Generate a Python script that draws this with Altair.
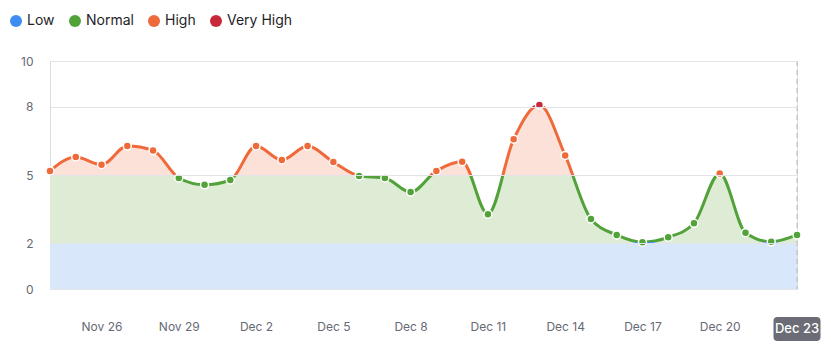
import altair as alt
import pandas as pd

# ---- data ----
start_date = "2024-11-24"
values = [5.18, 5.79, 5.45, 6.27, 6.08, 4.87, 4.57, 4.78, 6.27, 5.66,
          6.27, 5.57, 4.96, 4.87, 4.25, 5.18, 5.58, 3.28, 6.57, 8.07,
          5.86, 3.07, 2.37, 2.05, 2.27, 2.88, 5.07, 2.47, 2.07, 2.37]
categories = ["Low", "Normal", "High", "Very High"]
thresholds = [2, 5, 8]
cat_colors = ["#3d8ef0", "#52a23a", "#ef6a3a", "#c62a3a"]
band_fills = ["#d9e7fb", "#deebd5", "#fbe1d8", "#f6d0d4"]
y_ticks = [0, 2, 5, 8, 10]
x_tick_dates = ["2024-11-26", "2024-11-29", "2024-12-02", "2024-12-05", "2024-12-08",
                "2024-12-11", "2024-12-14", "2024-12-17", "2024-12-20"]
highlight_date = "2024-12-23"
highlight_label = "Dec 23"

dates = pd.date_range(start_date, periods=len(values), freq="D")


def cat_of(v):
    if v < thresholds[0]:
        return categories[0]
    if v < thresholds[1]:
        return categories[1]
    if v < thresholds[2]:
        return categories[2]
    return categories[3]


df = pd.DataFrame({
    "date": dates.strftime("%Y-%m-%d"),
    "value": values,
    "cat": [cat_of(v) for v in values],
})
hl = pd.DataFrame({"date": [highlight_date], "label": [highlight_label]})


def ms(d):
    return int(pd.Timestamp(d, tz="UTC").timestamp() * 1000)


vmax = max(values)
vmin = min(values)


def hard_stops(lo, hi, colors):
    # gradient from top (hi) to bottom (lo) with hard transitions at thresholds
    span = hi - lo
    def off(t):
        return min(1.0, max(0.0, (hi - t) / span))
    o = [off(t) for t in thresholds]  # offsets for 2, 5, 8
    stops = [
        {"offset": 0, "color": colors[3]},
        {"offset": o[2], "color": colors[3]},
        {"offset": o[2], "color": colors[2]},
        {"offset": o[1], "color": colors[2]},
        {"offset": o[1], "color": colors[1]},
        {"offset": o[0], "color": colors[1]},
        {"offset": o[0], "color": colors[0]},
        {"offset": 1, "color": colors[0]},
    ]
    return {"gradient": "linear", "x1": 0, "x2": 0, "y1": 0, "y2": 1, "stops": stops}


area_grad = hard_stops(0, vmax, band_fills)
line_grad = hard_stops(vmin, vmax, cat_colors)

FONT = "Inter"

xscale = alt.Scale(type="utc", domain=[ms(dates[0]), ms(dates[-1])], nice=False)
yscale = alt.Scale(domain=[0, 10], nice=False)

x_enc = alt.X(
    "date:T",
    scale=xscale,
    title=None,
    axis=alt.Axis(
        values=[ms(d) for d in x_tick_dates],
        labelExpr="utcFormat(datum.value, '%b %-d')",
        grid=False, ticks=False, domain=False,
        labelPadding=32, labelFontSize=12, labelColor="#666a73", labelFont=FONT,
    ),
)
y_enc = alt.Y(
    "value:Q",
    scale=yscale,
    title=None,
    axis=alt.Axis(
        values=y_ticks, grid=True, ticks=False, domain=False,
        gridColor="#e2e4ea", gridWidth=1,
        labelPadding=17, labelFontSize=12, labelColor="#666a73", labelFont=FONT,
        zindex=1,
    ),
)

base = alt.Chart(df)

area = base.mark_area(interpolate="monotone", fill=area_grad, opacity=1).encode(
    x=x_enc, y=y_enc, y2=alt.datum(0)
)

line = base.mark_line(interpolate="monotone", stroke=line_grad, strokeWidth=3).encode(
    x="date:T", y="value:Q"
)

points = base.mark_circle(size=64, stroke="white", strokeWidth=1.5, opacity=1).encode(
    x="date:T",
    y="value:Q",
    color=alt.Color(
        "cat:N",
        scale=alt.Scale(domain=categories, range=cat_colors),
        legend=alt.Legend(
            orient="none", legendX=-41, legendY=-47, direction="horizontal",
            title=None, symbolType="circle", symbolSize=144, symbolStrokeWidth=0,
            labelFontSize=14, labelFont=FONT, labelColor="#1f2328",
            columnPadding=13, labelOffset=4, padding=0,
        ),
    ),
)

rule = alt.Chart(hl).mark_rule(strokeDash=[5, 4], color="#b5b8bf", strokeWidth=1).encode(
    x="date:T", y=alt.value(0), y2=alt.value(228)
)

box_path = ("M-0.83,-0.51 L0.83,-0.51 Q1,-0.51 1,-0.34 L1,0.34 Q1,0.51 0.83,0.51 "
            "L-0.83,0.51 Q-1,0.51 -1,0.34 L-1,-0.34 Q-1,-0.51 -0.83,-0.51 Z")
box = alt.Chart(hl).mark_point(shape=box_path, size=47 * 47, filled=True,
                                color="#6b6c76", opacity=1).encode(
    x="date:T", y=alt.value(268)
)
box_text = alt.Chart(hl).mark_text(color="white", fontSize=13, font=FONT, fontWeight=500,
                                   baseline="middle", align="center").encode(
    x="date:T", y=alt.value(268), text="label:N"
)

chart = alt.layer(area, line, rule, points, box, box_text).properties(
    width=747, height=228,
    autosize=alt.AutoSizeParams(type="none"),
    padding={"left": 50, "top": 61, "right": 34, "bottom": 63},
).configure_view(stroke=None).configure(font=FONT, background="white")

chart.save("out.html", embed_options={"renderer": "svg", "actions": False})
